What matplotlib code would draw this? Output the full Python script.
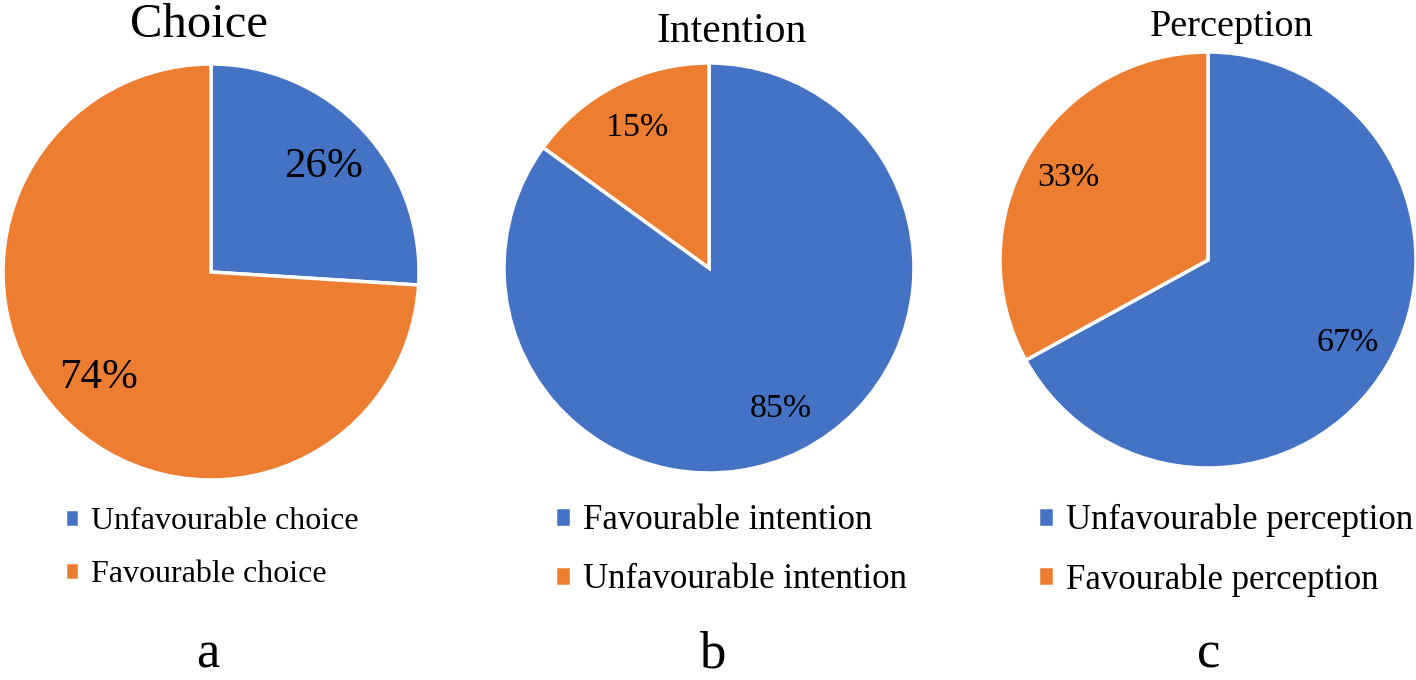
import matplotlib.pyplot as plt

plt.rcParams['font.family'] = ['Liberation Serif', 'DejaVu Serif']

# === data ===
titles = ["Choice", "Intention", "Perception"]
letters = ["a", "b", "c"]
labels_a = ["Unfavourable choice", "Favourable choice"]
values_a = [26, 74]
labels_b = ["Favourable intention", "Unfavourable intention"]
values_b = [85, 15]
labels_c = ["Unfavourable perception", "Favourable perception"]
values_c = [67, 33]

blue = "#4472C4"
orange = "#ED7D31"

W, H = 1416, 680
fig = plt.figure(figsize=(W / 100, H / 100), dpi=100)

# pixel layout: (center x, center y, radius), title, legend, letter
panels = [
    dict(vals=values_a, labs=labels_a, c=(211, 272, 208), pct=31, pctd=0.74,
         title=(199, 37, 35), leg=(65, 548, 23), letter=(208, 668)),
    dict(vals=values_b, labs=labels_b, c=(709, 268, 205), pct=24.5, pctd=0.77,
         title=(732, 42, 30), leg=(555, 550, 25), letter=(712, 668)),
    dict(vals=values_c, labs=labels_c, c=(1208, 260, 208), pct=24.5, pctd=0.78,
         title=(1232, 36, 27.5), leg=(1038, 550, 25), letter=(1209, 668)),
]

for p, title, letter in zip(panels, titles, letters):
    cx, cy, r = p["c"]
    ax = fig.add_axes([(cx - r) / W, (H - cy - r) / H, 2 * r / W, 2 * r / H])
    wedges, texts, autotexts = ax.pie(
        p["vals"], colors=[blue, orange], startangle=90, counterclock=False,
        autopct="%d%%", pctdistance=p["pctd"], radius=1,
        wedgeprops=dict(edgecolor="white", linewidth=2.5),
        textprops=dict(fontsize=p["pct"], color="black"))
    ax.set_xlim(-1, 1)
    ax.set_ylim(-1, 1)
    ax.set_aspect("equal")
    ax.axis("off")

    tx, ty, ts = p["title"]
    fig.text(tx / W, 1 - ty / H, title, fontsize=ts, ha="center", va="baseline")

    lx, ly, ls = p["leg"]
    fig.legend(wedges, p["labs"], loc="center left",
               bbox_to_anchor=(lx / W, 1 - ly / H), frameon=False,
               fontsize=ls, handlelength=0.45, handleheight=0.5,
               handletextpad=0.35, labelspacing=0.75, borderpad=0,
               borderaxespad=0)

    fx, fy = p["letter"]
    fig.text(fx / W, 1 - fy / H, letter, fontsize=38, ha="center", va="baseline")

fig.savefig("out.png", dpi=100)
